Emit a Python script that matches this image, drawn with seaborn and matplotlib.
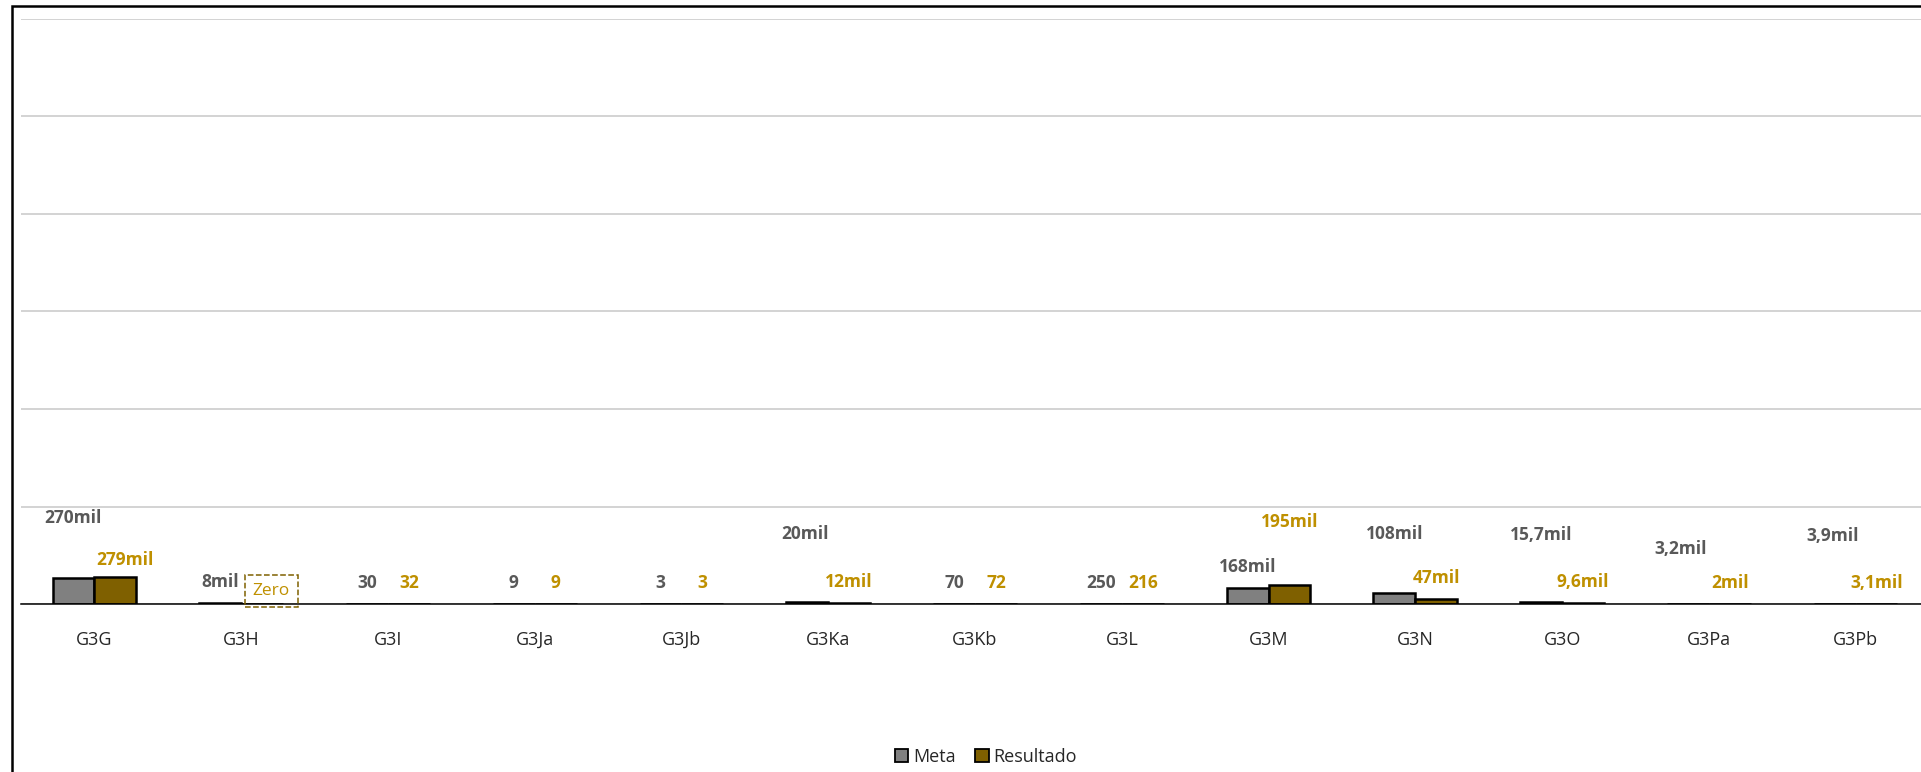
import seaborn as sns
import pandas as pd
import matplotlib.pyplot as plt
from matplotlib.patches import Rectangle


categorias = ["G3G", "G3H", "G3I", "G3Ja", "G3Jb", "G3Ka", "G3Kb",
              "G3L", "G3M", "G3N", "G3O", "G3Pa", "G3Pb"]
meta = [270000, 8000, 30, 9, 3, 20000, 70, 250, 168000, 108000, 15700, 3200, 3900]
resultado = [279000, 0, 32, 9, 3, 12000, 72, 216, 195000, 47000, 9600, 2000, 3100]
series = ["Meta", "Resultado"]

df = pd.DataFrame({
    "categoria": categorias * 2,
    "serie": ["Meta"] * len(meta) + ["Resultado"] * len(resultado),
    "valor": meta + resultado,
})

cores = {"Meta": "#808080", "Resultado": "#7F6000"}
cores_rotulo = {"Meta": "#595959", "Resultado": "#BF9000"}

# rótulos movidos à mão no original (pixels: dx, dy extra)
ajuste = {
    ("G3G", "Meta"): (-1, 39),
    ("G3G", "Resultado"): (10, -4),
    ("G3H", "Resultado"): (9, -8),
    ("G3Ka", "Meta"): (-2, 47),
    ("G3M", "Resultado"): (0, 42),
    ("G3N", "Meta"): (0, 38),
    ("G3O", "Meta"): (0, 46),
    ("G3Pa", "Meta"): (-7, 34),
    ("G3Pb", "Meta"): (-2, 47),
}


def rotulo(v):
    if v == 0:
        return "Zero"
    if v >= 1000:
        return f"{v / 1000:g}".replace(".", ",") + "mil"
    return f"{v:g}"


sns.set_style("white")
plt.rcParams["font.family"] = ["Open Sans", "DejaVu Sans"]

W, H = 1921, 772
fig = plt.figure(figsize=(W / 100, H / 100), dpi=100)
ax = fig.add_axes([21 / W, (H - 604) / H, 1908 / W, 585 / H])

sns.barplot(data=df, x="categoria", y="valor", hue="serie", hue_order=series,
            palette=cores, width=0.57, edgecolor="black", linewidth=1.8,
            saturation=1, legend=False, ax=ax)

ax.set_xlim(-0.5, len(categorias) - 0.5)
ax.set_ylim(0, 6000000)
ax.set_yticks(range(0, 6000001, 1000000))
ax.yaxis.grid(True, color="#d0d0d0", linewidth=1.3)
ax.set_axisbelow(True)
ax.tick_params(axis="y", left=False, labelleft=False)
ax.tick_params(axis="x", bottom=False, labelsize=13, labelcolor="#262626", pad=16)
ax.set_xlabel("")
ax.set_ylabel("")
for s in ["left", "right", "top"]:
    ax.spines[s].set_visible(False)
ax.spines["bottom"].set_color("black")
ax.spines["bottom"].set_linewidth(1.1)

for serie, cont in zip(series, ax.containers):
    for cat, barra in zip(categorias, cont):
        v = df[(df["categoria"] == cat) & (df["serie"] == serie)]["valor"].iloc[0]
        dx, dy = ajuste.get((cat, serie), (0, 0))
        x = barra.get_x() + barra.get_width() / 2
        kw = {}
        if v == 0:
            kw["bbox"] = dict(boxstyle="square,pad=0.45", facecolor="none",
                              edgecolor="#7F6000", linestyle="--", linewidth=1.1)
        ax.annotate(rotulo(v), xy=(x, barra.get_height()), xytext=(dx, 21 + dy),
                    textcoords="offset pixels", ha="center", va="center",
                    fontsize=12.5, fontweight="bold" if v != 0 else "normal",
                    color=cores_rotulo[serie], annotation_clip=False, **kw)

handles = [Rectangle((0, 0), 1, 1, facecolor=cores[s], edgecolor="black", linewidth=1.3)
           for s in series]
fig.legend(handles, series, loc="center", bbox_to_anchor=(986 / W, 1 - 757 / H),
           ncol=2, frameon=False, fontsize=13, handlelength=0.75, handleheight=0.75,
           handletextpad=0.25, columnspacing=1.1, labelcolor="#262626")

# moldura do gráfico (cortada à direita e embaixo)
fig.add_artist(Rectangle((12 / W, -0.5), 2, 0.5 + (H - 6) / H, transform=fig.transFigure,
                         facecolor="none", edgecolor="black", linewidth=1.8))

fig.savefig("out.png", dpi=100, facecolor="white")
